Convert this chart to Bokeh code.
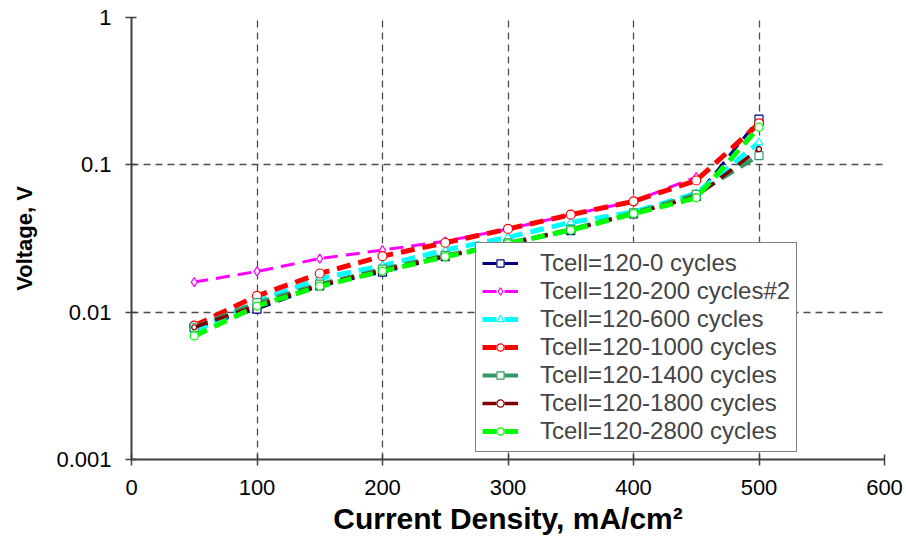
from bokeh.plotting import figure
from bokeh.models import (Range1d, FixedTicker, CustomJSTickFormatter, Legend,
                          LegendItem)
from bokeh.embed import file_html
from bokeh.resources import INLINE

# Current density (mA/cm^2) and cell voltage (V) for each cycling state
current = [50, 100, 150, 200, 250, 300, 350, 400, 450, 500]

v_0 = [0.0078, 0.0105, 0.0151, 0.0187, 0.0238, 0.0288, 0.0358, 0.0465, 0.061, 0.204]
v_200 = [0.0160, 0.0189, 0.0231, 0.0264, 0.0303, 0.0367, 0.0459, 0.0565, 0.0826]
v_600 = [0.0074, 0.0118, 0.0169, 0.0207, 0.0264, 0.0322, 0.0407, 0.0478, 0.064, 0.1415]
v_1000 = [0.0081, 0.0129, 0.0183, 0.0240, 0.0296, 0.0367, 0.0459, 0.0565, 0.0783, 0.191]
v_1400 = [0.0079, 0.0116, 0.0155, 0.0196, 0.0243, 0.0295, 0.0365, 0.0472, 0.063, 0.1156]
v_1800 = [0.0079, 0.0111, 0.0153, 0.0193, 0.0240, 0.0293, 0.0362, 0.0468, 0.061, 0.128]
v_2800 = [0.0069, 0.0110, 0.0150, 0.0190, 0.0238, 0.0292, 0.0360, 0.0466, 0.0597, 0.180]

labels = ["Tcell=120-0 cycles", "Tcell=120-200 cycles#2", "Tcell=120-600 cycles",
          "Tcell=120-1000 cycles", "Tcell=120-1400 cycles", "Tcell=120-1800 cycles",
          "Tcell=120-2800 cycles"]

x_ticks = [0, 100, 200, 300, 400, 500, 600]
y_ticks = [0.001, 0.01, 0.1, 1]

series = [
    (v_0, "#000080", "square", 3, 8),
    (v_200, "#FF00FF", "diamond", 3, 9),
    (v_600, "#00FFFF", "triangle", 5, 8),
    (v_1000, "#FF0000", "circle", 5, 9),
    (v_1400, "#339966", "square", 4, 8),
    (v_1800, "#800000", "circle", 3.5, 5),
    (v_2800, "#00FF00", "circle", 5, 8),
]

p = figure(width=906, height=537, y_axis_type="log",
           x_range=Range1d(0, 600), y_range=Range1d(0.001, 1),
           output_backend="svg", toolbar_location=None,
           min_border_left=131, min_border_right=22,
           min_border_top=17, min_border_bottom=77)
p.outline_line_color = None
p.background_fill_color = "white"
p.border_fill_color = "white"

grid_color = "#4d4d4d"
p.xgrid.grid_line_color = grid_color
p.ygrid.grid_line_color = grid_color
p.xgrid.grid_line_dash = "7 5"
p.ygrid.grid_line_dash = "7 5"
p.xgrid.grid_line_width = 1.3
p.ygrid.grid_line_width = 1.3

p.xaxis.ticker = FixedTicker(ticks=x_ticks)
p.yaxis.ticker = FixedTicker(ticks=y_ticks)
p.yaxis.formatter = CustomJSTickFormatter(code="return tick.toString();")

for ax in (p.xaxis, p.yaxis):
    ax.axis_line_color = "#404040"
    ax.axis_line_width = 2
    ax.major_tick_line_color = "#404040"
    ax.major_tick_line_width = 1.5
    ax.major_tick_in = 5
    ax.major_tick_out = 6
    ax.minor_tick_line_color = None
    ax.major_label_text_font = "Liberation Sans"
    ax.major_label_text_font_size = "22px"
    ax.major_label_text_color = "black"
    ax.axis_label_text_font = "Liberation Sans"
    ax.axis_label_text_font_style = "bold"
    ax.axis_label_text_color = "black"

p.xaxis.major_label_standoff = 14
p.yaxis.major_label_standoff = 14
p.xaxis.axis_label = "Current Density, mA/cm\u00b2"
p.xaxis.axis_label_text_font_size = "30px"
p.xaxis.axis_label_standoff = 4
p.yaxis.axis_label = "Voltage, V"
p.yaxis.axis_label_text_font_size = "22px"
p.yaxis.axis_label_standoff = 16

items = []
for (vals, color, marker, lw, ms), label in zip(series, labels):
    xs = current[:len(vals)]
    line = p.line(xs, vals, line_color=color, line_width=lw, line_dash="14 8")
    pts = p.scatter(xs, vals, marker=marker, size=ms, line_color=color,
                    fill_color="white", line_width=1.2)
    items.append(LegendItem(label=label, renderers=[line, pts]))

legend = Legend(items=items, location=(344, 7))
legend.border_line_color = "black"
legend.border_line_width = 1.2
legend.background_fill_color = "white"
legend.background_fill_alpha = 1
legend.label_text_font = "Liberation Sans"
legend.label_text_font_size = "24px"
legend.label_height = 18
legend.glyph_height = 18
legend.glyph_width = 36
legend.label_standoff = 22
legend.spacing = 0
legend.padding = 6
legend.margin = 0
p.add_layout(legend, "center")

open("out.html", "w").write(file_html(p, INLINE))
